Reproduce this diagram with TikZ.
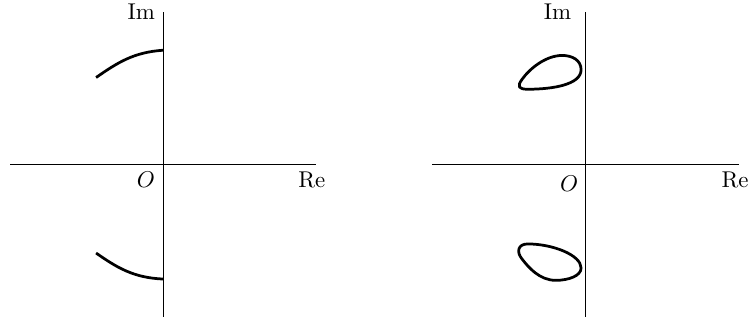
\documentclass[tikz,border=0pt]{standalone}
\usetikzlibrary{positioning}

\begin{document}
\begin{tikzpicture}
\useasboundingbox (0,0) rectangle (11.508,4.923);
\tikzset{axis/.style={thin},
         locus/.style={very thick,line join=round}}
% left plane
\begin{scope}[shift={(2.508,2.4)}]
    \coordinate (o1) at (0,0);
    \coordinate (xl1) at (-2.35,0);
    \coordinate (xr1) at (2.35,0);
    \coordinate (yb1) at (0,-2.35);
    \coordinate (yt1) at (0,2.34);
    \draw[axis] (xl1) -- (xr1);
    \draw[axis] (yb1) -- (yt1);
    \node[left] (im1) at (yt1) {Im};
    \node[below] (re1) at (2.29,0) {Re};
    \node[below left] (olab1) at (o1) {$O$};
    \draw[locus] (-1.03,1.33) .. controls (-0.7,1.56) and (-0.45,1.72) .. (0,1.75);
    \draw[locus] (-1.03,-1.37) .. controls (-0.7,-1.6) and (-0.45,-1.75) .. (0,-1.77);
\end{scope}
% right plane
\begin{scope}[shift={(9.0,2.4)}]
    \coordinate (o2) at (0,0);
    \coordinate (xl2) at (-2.35,0);
    \coordinate (xr2) at (2.37,0);
    \coordinate (yb2) at (0,-2.35);
    \coordinate (yt2) at (0,2.34);
    \draw[axis] (xl2) -- (xr2);
    \draw[axis] (yb2) -- (yt2);
    \node[left=2.5pt] (im2) at (yt2) {Im};
    \node[below] (re2) at (2.31,0) {Re};
    \node[below left] (olab2) at (0.02,-0.06) {$O$};
    \draw[locus] (-0.06,1.45) .. controls (-0.06,1.60) and (-0.2,1.67) .. (-0.35,1.67)
        .. controls (-0.6,1.67) and (-0.85,1.47) .. (-0.97,1.30)
        .. controls (-1.05,1.19) and (-1.02,1.15) .. (-0.88,1.15)
        .. controls (-0.5,1.15) and (-0.06,1.22) .. cycle;
    \draw[locus] (-0.06,-1.60) .. controls (-0.06,-1.72) and (-0.25,-1.79) .. (-0.45,-1.79)
        .. controls (-0.7,-1.79) and (-0.87,-1.59) .. (-0.97,-1.46)
        .. controls (-1.06,-1.35) and (-1.03,-1.23) .. (-0.88,-1.23)
        .. controls (-0.5,-1.23) and (-0.06,-1.40) .. cycle;
\end{scope}
\end{tikzpicture}
\end{document}
